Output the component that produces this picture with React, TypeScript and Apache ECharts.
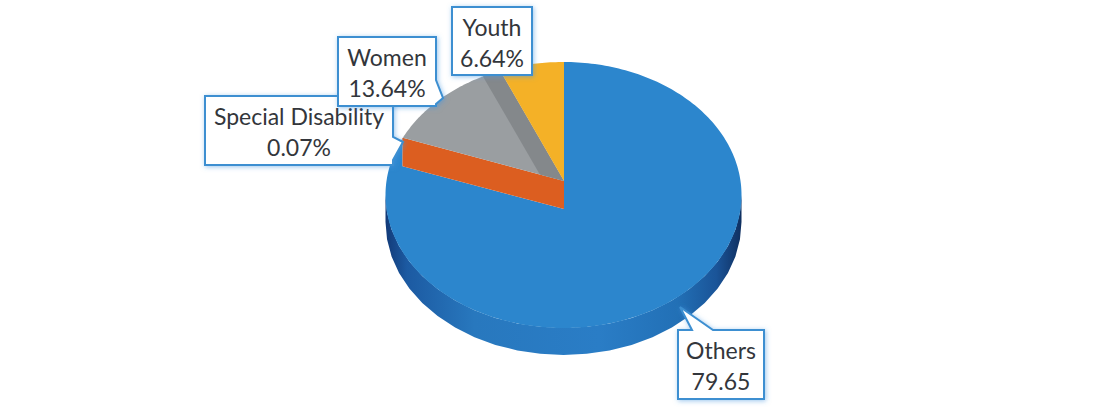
import React, { useEffect, useRef } from "react";
import * as echarts from "echarts";

const categories = ["Others", "Special Disability", "Women", "Youth"];
const shares = [79.65, 0.07, 13.64, 6.64];
const shareLabels = ["79.65", "0.07%", "13.64%", "6.64%"];
const sliceColors = ["#2C86CD", "#DC5E20", "#9A9EA1", "#F4B127"];

const FONT = "Lato, 'Open Sans', sans-serif";
const CX = 563.5, CY = 195, RX = 178, RY = 133, LIFT = 27, SHEAR = 0.04;
const APEX_LOW = [564, 209];
const APEX_HIGH = [564, 181];

// callout boxes: [left, top, right, bottom], pointer [base1, tip, base2]
const boxes: Record<number, { r: number[]; p: number[][]; side: string }> = {
  0: { r: [678, 330, 764, 399], p: [[692, 330], [680, 307], [713, 330]], side: "top" },
  1: { r: [205, 96, 393, 165], p: [[393, 137], [403, 142], [393, 160]], side: "right" },
  2: { r: [338, 37, 436, 106], p: [[436, 80], [443, 98], [436, 104]], side: "right" },
  3: { r: [452, 7, 532, 75], p: [], side: "none" },
};

const rad = (d: number) => (d * Math.PI) / 180;

function rim(theta: number, apex: number[]) {
  const dx = Math.sin(rad(theta)) * RX;
  const dy = -Math.cos(rad(theta)) * RY + SHEAR * dx;
  const ox = (apex[0] - CX) / RX, oy = (apex[1] - CY) / RY;
  const ux = dx / RX, uy = dy / RY;
  const a = ux * ux + uy * uy;
  const b = 2 * (ox * ux + oy * uy);
  const c = ox * ox + oy * oy - 1;
  const s = (-b + Math.sqrt(b * b - 4 * a * c)) / (2 * a);
  return [apex[0] + dx * s, apex[1] + dy * s];
}

function arc(from: number, to: number, apex: number[]) {
  const pts: number[][] = [];
  const n = Math.max(2, Math.ceil(Math.abs(to - from)));
  for (let i = 0; i <= n; i++) pts.push(rim(from + ((to - from) * i) / n, apex));
  return pts;
}

function ellipseArc(p: number[], q: number[], dy = 0) {
  const t = (pt: number[]) => Math.atan2(pt[0] - CX, -(pt[1] - CY - dy) * (RX / RY));
  let a = t(p), b = t(q);
  if (b < a) b += Math.PI * 2;
  const pts: number[][] = [];
  for (let i = 0; i <= 24; i++) {
    const u = a + ((b - a) * i) / 24;
    pts.push([CX + RX * Math.sin(u), CY + dy - RY * Math.cos(u)]);
  }
  return pts;
}

function cumulative(i: number) {
  let s = 0;
  for (let k = 0; k < i; k++) s += shares[k];
  return (s / shares.reduce((m, v) => m + v, 0)) * 360;
}

function calloutPoints(i: number) {
  const { r, p, side } = boxes[i];
  const [l, t, rr, b] = r;
  if (side === "top") return [[l, t], ...p, [rr, t], [rr, b], [l, b]];
  if (side === "right") return [[l, t], [rr, t], ...p, [rr, b], [l, b]];
  return [[l, t], [rr, t], [rr, b], [l, b]];
}

function callout(i: number) {
  const { r } = boxes[i];
  const mx = (r[0] + r[2]) / 2;
  const textStyle = { fontFamily: FONT, fontSize: 23, fill: "#33363B", textAlign: "center", textVerticalAlign: "middle" };
  return [
    {
      type: "polygon",
      shape: { points: calloutPoints(i) },
      style: { fill: "#fff", stroke: "#3D8FD1", lineWidth: 2, shadowColor: "rgba(70,150,225,0.55)", shadowBlur: 5, shadowOffsetX: 1, shadowOffsetY: 1 },
    },
    { type: "text", style: { ...textStyle, text: categories[i], x: mx, y: r[1] + 20 } },
    { type: "text", style: { ...textStyle, text: shareLabels[i], x: mx, y: r[1] + 51 } },
  ];
}

function renderSlice(params: any) {
  const i = params.dataIndex;
  const start = cumulative(i);
  const end = cumulative(i + 1);
  const children: any[] = [];
  if (i === 0) {
    const wall = ellipseArc([CX + RX, CY + LIFT], [CX - RX, CY + LIFT], LIFT);
    const wallTop = ellipseArc([CX + RX, CY], [CX - RX, CY]);
    children.push({
      type: "polygon",
      shape: { points: [...wall, ...wallTop.reverse()] },
      style: {
        fill: new echarts.graphic.LinearGradient(0, 0, 1, 0, [
          { offset: 0, color: "#123A78" },
          { offset: 0.06, color: "#1C5AA2" },
          { offset: 0.25, color: "#2878BE" },
          { offset: 0.6, color: "#2A7DC6" },
          { offset: 0.82, color: "#2270B6" },
          { offset: 0.93, color: "#1A5498" },
          { offset: 1, color: "#0F2F60" },
        ]),
      },
    });
    const outer = arc(start, end, APEX_LOW);
    const rimEnd = rim(end, APEX_HIGH);
    children.push({
      type: "polygon",
      shape: {
        points: [APEX_LOW, ...outer, ...ellipseArc(outer[outer.length - 1], rimEnd), rimEnd, [rimEnd[0], rimEnd[1] + (APEX_LOW[1] - APEX_HIGH[1])]],
      },
      style: { fill: sliceColors[i] },
    });
  } else if (i === 1) {
    const a = rim(start, APEX_HIGH);
    const b = rim(end, APEX_HIGH);
    children.push({
      type: "polygon",
      shape: { points: [APEX_LOW, [a[0], a[1] + (APEX_LOW[1] - APEX_HIGH[1])], a, b, APEX_HIGH] },
      style: { fill: sliceColors[i] },
    });
  } else {
    children.push({
      type: "polygon",
      shape: { points: [APEX_HIGH, ...arc(start, end, APEX_HIGH)] },
      style: { fill: sliceColors[i] },
    });
    if (i === 2) {
      const first = rim(start, APEX_HIGH);
      const inner = [
        APEX_HIGH[0] + (first[0] - APEX_HIGH[0]) * 0.15,
        APEX_HIGH[1] + (first[1] - APEX_HIGH[1]) * 0.15,
      ];
      children.push({
        type: "polygon",
        shape: { points: [APEX_HIGH, inner, rim(end, inner), rim(end, APEX_HIGH)] },
        style: { fill: "#84888B" },
      });
    }
  }
  return { type: "group", children };
}

function renderLabel(params: any) {
  return { type: "group", children: callout(params.dataIndex) };
}

export default function App() {
  const ref = useRef<HTMLDivElement>(null);
  useEffect(() => {
    const chart = echarts.init(ref.current!, undefined, { renderer: "svg" });
    chart.setOption({
      animation: false,
      backgroundColor: "#fff",
      series: [
        { type: "custom", coordinateSystem: "none", silent: true, clip: false, z: 1, renderItem: renderSlice, data: shares },
        { type: "custom", coordinateSystem: "none", silent: true, clip: false, z: 2, renderItem: renderLabel, data: shares },
      ],
    });
    return () => chart.dispose();
  }, []);
  return <div ref={ref} style={{ position: "absolute", left: 0, top: 0, width: 1109, height: 409 }} />;
}
